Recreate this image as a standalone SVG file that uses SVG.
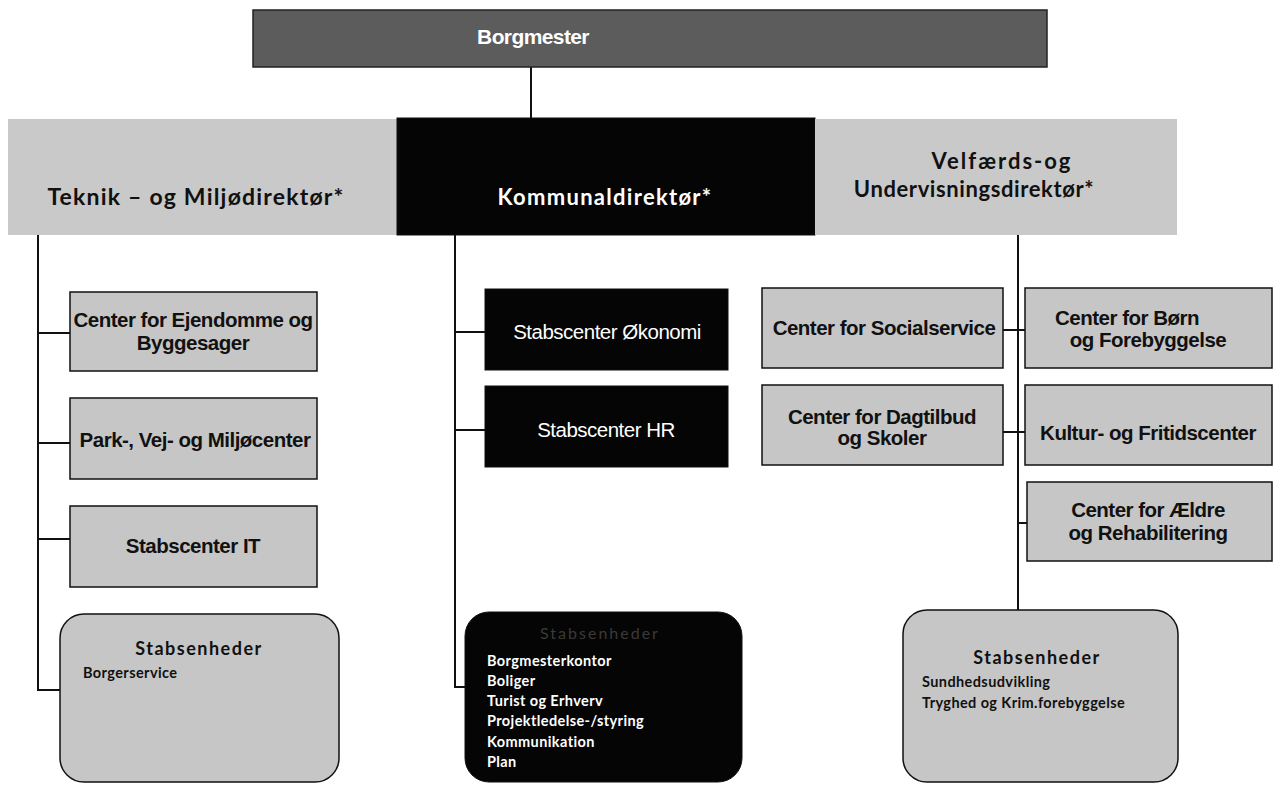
<svg xmlns="http://www.w3.org/2000/svg" width="1276" height="785" viewBox="0 0 1276 785">
<style>
.bg{fill:#ffffff}
.lt{fill:#c6c6c6;stroke:#111;stroke-width:1.5}
.ltn{fill:#c9c9c9}
.dk{fill:#050505;stroke:#111;stroke-width:1}
.bm{fill:#5c5c5c;stroke:#222;stroke-width:1.5}
.conn line,.conn polyline{stroke:#111;stroke-width:2;fill:none}
.dir{font-family:Lato,"Open Sans",sans-serif;font-weight:bold;font-size:23px;text-anchor:middle}
.box{font-family:"Liberation Sans",Arial,sans-serif;font-weight:bold;font-size:20.5px;text-anchor:middle;letter-spacing:-0.5px}
.st{font-family:Lato,"Open Sans",sans-serif;font-weight:bold;font-size:18px;text-anchor:middle;letter-spacing:1.5px}
.it{font-family:Lato,"Open Sans",sans-serif;font-weight:bold;font-size:14.5px;letter-spacing:0.4px}
.w{fill:#ffffff}
.b{fill:#111111}
</style>
<rect class="bg" x="0" y="0" width="1276" height="785"/>
<g class="conn" id="connectors">
<line x1="531" y1="67" x2="531" y2="118"/>
<polyline points="38,235 38,690 60,690"/>
<line x1="38" y1="333" x2="70" y2="333"/>
<line x1="38" y1="443" x2="70" y2="443"/>
<line x1="38" y1="539" x2="70" y2="539"/>
<polyline points="455,235 455,687 465,687"/>
<line x1="455" y1="332" x2="485" y2="332"/>
<line x1="455" y1="430" x2="485" y2="430"/>
<line x1="1018" y1="235" x2="1018" y2="610"/>
<line x1="1003" y1="330" x2="1025" y2="330"/>
<line x1="1003" y1="432" x2="1025" y2="432"/>
<line x1="1018" y1="523" x2="1027" y2="523"/>
</g>
<g id="borgmester">
<rect class="bm" x="253" y="10" width="794" height="57"/>
<text class="box w" x="533" y="44" style="font-size:21px;letter-spacing:-0.6px">Borgmester</text>
</g>
<g id="teknik">
<rect class="ltn" x="8" y="119" width="390" height="116"/>
<text class="dir b" x="196" y="205" style="letter-spacing:1.2px">Teknik – og Miljødirektør*</text>
</g>
<g id="kommunal">
<rect class="dk" x="397" y="118" width="418" height="117"/>
<text class="dir w" x="605" y="205" style="font-size:22px;letter-spacing:1.3px">Kommunaldirektør*</text>
</g>
<g id="velfaerd">
<rect class="ltn" x="815" y="119" width="362" height="116"/>
<text class="dir b" x="1002" y="169" style="font-size:22px;letter-spacing:2px">Velfærds-og</text>
<text class="dir b" x="974" y="197" style="font-size:22px;letter-spacing:0.6px">Undervisningsdirektør*</text>
</g>
<g id="ejendomme">
<rect class="lt" x="70" y="292" width="247" height="79"/>
<text class="box b" x="193" y="327">Center for Ejendomme og</text>
<text class="box b" x="193" y="350">Byggesager</text>
</g>
<g id="park">
<rect class="lt" x="70" y="398" width="247" height="81"/>
<text class="box b" x="195" y="447">Park-, Vej- og Miljøcenter</text>
</g>
<g id="it">
<rect class="lt" x="70" y="506" width="247" height="81"/>
<text class="box b" x="193" y="553">Stabscenter IT</text>
</g>
<g id="stabs-left">
<rect class="lt" x="60" y="614" width="279" height="168" rx="24"/>
<text class="st b" x="199" y="655">Stabsenheder</text>
<text class="it b" x="83" y="678">Borgerservice</text>
</g>
<g id="okonomi">
<rect class="dk" x="485" y="289" width="243" height="81"/>
<text class="box w" x="607" y="339" style="font-weight:normal">Stabscenter Økonomi</text>
</g>
<g id="hr">
<rect class="dk" x="485" y="386" width="243" height="81"/>
<text class="box w" x="606" y="437" style="font-weight:normal">Stabscenter HR</text>
</g>
<g id="stabs-mid">
<rect class="dk" x="465" y="612" width="277" height="170" rx="24"/>
<text class="st" x="600" y="639" style="fill:#3a3a3a;font-weight:normal;font-size:16px;letter-spacing:2px">Stabsenheder</text>
<text class="it w" x="487" y="666">Borgmesterkontor</text>
<text class="it w" x="487" y="686">Boliger</text>
<text class="it w" x="487" y="706">Turist og Erhverv</text>
<text class="it w" x="487" y="726">Projektledelse-/styring</text>
<text class="it w" x="487" y="747">Kommunikation</text>
<text class="it w" x="487" y="767">Plan</text>
</g>
<g id="socialservice">
<rect class="lt" x="762" y="288" width="241" height="80"/>
<text class="box b" x="884" y="335">Center for Socialservice</text>
</g>
<g id="dagtilbud">
<rect class="lt" x="762" y="385" width="241" height="80"/>
<text class="box b" x="882" y="424">Center for Dagtilbud</text>
<text class="box b" x="882" y="445">og Skoler</text>
</g>
<g id="born">
<rect class="lt" x="1025" y="288" width="247" height="80"/>
<text class="box b" x="1127" y="325">Center for Børn</text>
<text class="box b" x="1148" y="347">og Forebyggelse</text>
</g>
<g id="kultur">
<rect class="lt" x="1025" y="385" width="247" height="80"/>
<text class="box b" x="1148" y="440">Kultur- og Fritidscenter</text>
</g>
<g id="aeldre">
<rect class="lt" x="1027" y="482" width="245" height="79"/>
<text class="box b" x="1148" y="517">Center for Ældre</text>
<text class="box b" x="1148" y="540">og Rehabilitering</text>
</g>
<g id="stabs-right">
<rect class="lt" x="903" y="610" width="275" height="172" rx="24"/>
<text class="st b" x="1037" y="664">Stabsenheder</text>
<text class="it b" x="922" y="687">Sundhedsudvikling</text>
<text class="it b" x="922" y="708">Tryghed og Krim.forebyggelse</text>
</g>
</svg>
